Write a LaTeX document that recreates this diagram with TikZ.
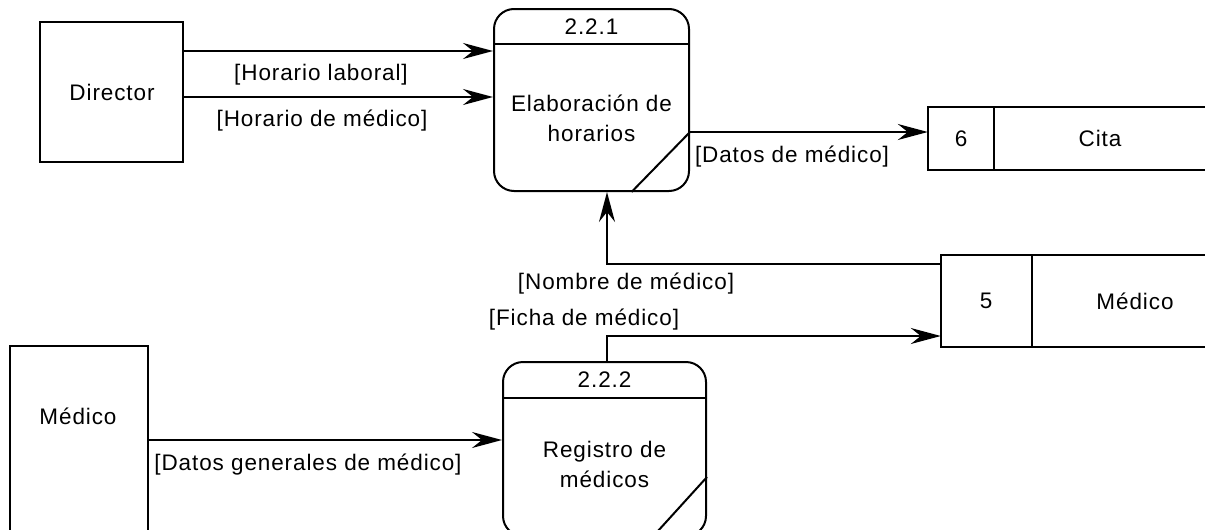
\documentclass[tikz,border=0pt]{standalone}
\usepackage{fontspec}
\setmainfont{Liberation Sans}[LetterSpace=4]
\usetikzlibrary{arrows.meta,calc}
\begin{document}
\begin{tikzpicture}[x=1pt,y=-1pt,
  every node/.style={font=\fontsize{22.5}{26}\selectfont},
  box/.style={draw,line width=2pt,rectangle,inner sep=0pt},
  proc/.style={draw,line width=2pt,rectangle,rounded corners=20pt,inner sep=0pt},
  ghost/.style={rectangle,inner sep=0pt},
  lbl/.style={inner sep=0pt},
  ln/.style={line width=2pt},
  arr/.style={line width=2pt,-{Stealth[length=30pt,width=16pt,inset=10pt]}}]
\useasboundingbox (0,0) rectangle (1205,530);
\clip (0,0) rectangle (1205,530);
\fill[white] (0,0) rectangle (1205,530);
% external entities
\node[box,minimum width=143pt,minimum height=140pt] (director) at (111.5,92) {};
\node[lbl] (directorT) at (112,92) {Director};
\node[box,minimum width=138pt,minimum height=194pt] (medext) at (79,443) {};
\node[lbl] (medextT) at (78,416) {Médico};
% process 2.2.1
\node[proc,minimum width=195pt,minimum height=182pt] (p1) at (591.5,100) {};
\draw[ln] (p1.west |- 0,44) -- (p1.east |- 0,44);
\draw[ln] ([yshift=-32pt]p1.east) -- ([xshift=40pt]p1.south);
\node[lbl] (p1n) at (591.5,27) {2.2.1};
\node[lbl] (p1a) at (591.5,103) {Elaboración de};
\node[lbl] (p1b) at (591.5,133) {horarios};
% process 2.2.2
\node[proc,minimum width=203pt,minimum height=174pt] (p2) at (604.5,449) {};
\draw[ln] (p2.west |- 0,398) -- (p2.east |- 0,398);
\draw[ln] ([yshift=-28pt]p2.east) -- ([xshift=48pt]p2.south);
\node[lbl] (p2n) at (604.5,380) {2.2.2};
\node[lbl] (p2a) at (604.5,452) {Registro de};
\node[lbl] (p2b) at (604.5,479) {médicos};
% data store 6 Cita
\node[ghost,minimum width=282pt,minimum height=63pt] (cita) at (1069,138.5) {};
\draw[ln] (1215,107) -- (928,107) -- (928,170) -- (1215,170);
\draw[ln] (994,107) -- (994,170);
\node[lbl] (citaN) at (961,138.5) {6};
\node[lbl] (citaT) at (1100,138.5) {Cita};
% data store 5 Medico
\node[ghost,minimum width=269pt,minimum height=92pt] (medst) at (1075.5,301) {};
\draw[ln] (1215,255) -- (941,255) -- (941,347) -- (1215,347);
\draw[ln] (1032,255) -- (1032,347);
\node[lbl] (medstN) at (986,301) {5};
\node[lbl] (medstT) at (1135,301) {Médico};
% flows
\draw[arr] ([yshift=41pt]director.east) -- ([yshift=41pt]director.east -| p1.west);
\draw[arr] ([yshift=-5pt]director.east) -- ([yshift=-5pt]director.east -| p1.west);
\node[lbl] (l1) at (321,75) {[Horario laboral]};
\node[lbl] (l2) at (322,121) {[Horario de médico]};
\draw[arr] ([yshift=-32pt]p1.east) -- ([yshift=-32pt]p1.east -| cita.west);
\node[lbl] (l3) at (792,157) {[Datos de médico]};
\draw[arr] ([yshift=37pt]medst.west) -| ([xshift=15.5pt]p1.south);
\node[lbl] (l4) at (626,284) {[Nombre de médico]};
\draw[arr] ([xshift=2.5pt]p2.north) |- ([yshift=-35pt]medst.west);
\node[lbl] (l5) at (584,320) {[Ficha de médico]};
\draw[arr] ([yshift=3pt]medext.east) -- ([yshift=3pt]medext.east -| p2.west);
\node[lbl] (l6) at (308,465) {[Datos generales de médico]};
\end{tikzpicture}
\end{document}
